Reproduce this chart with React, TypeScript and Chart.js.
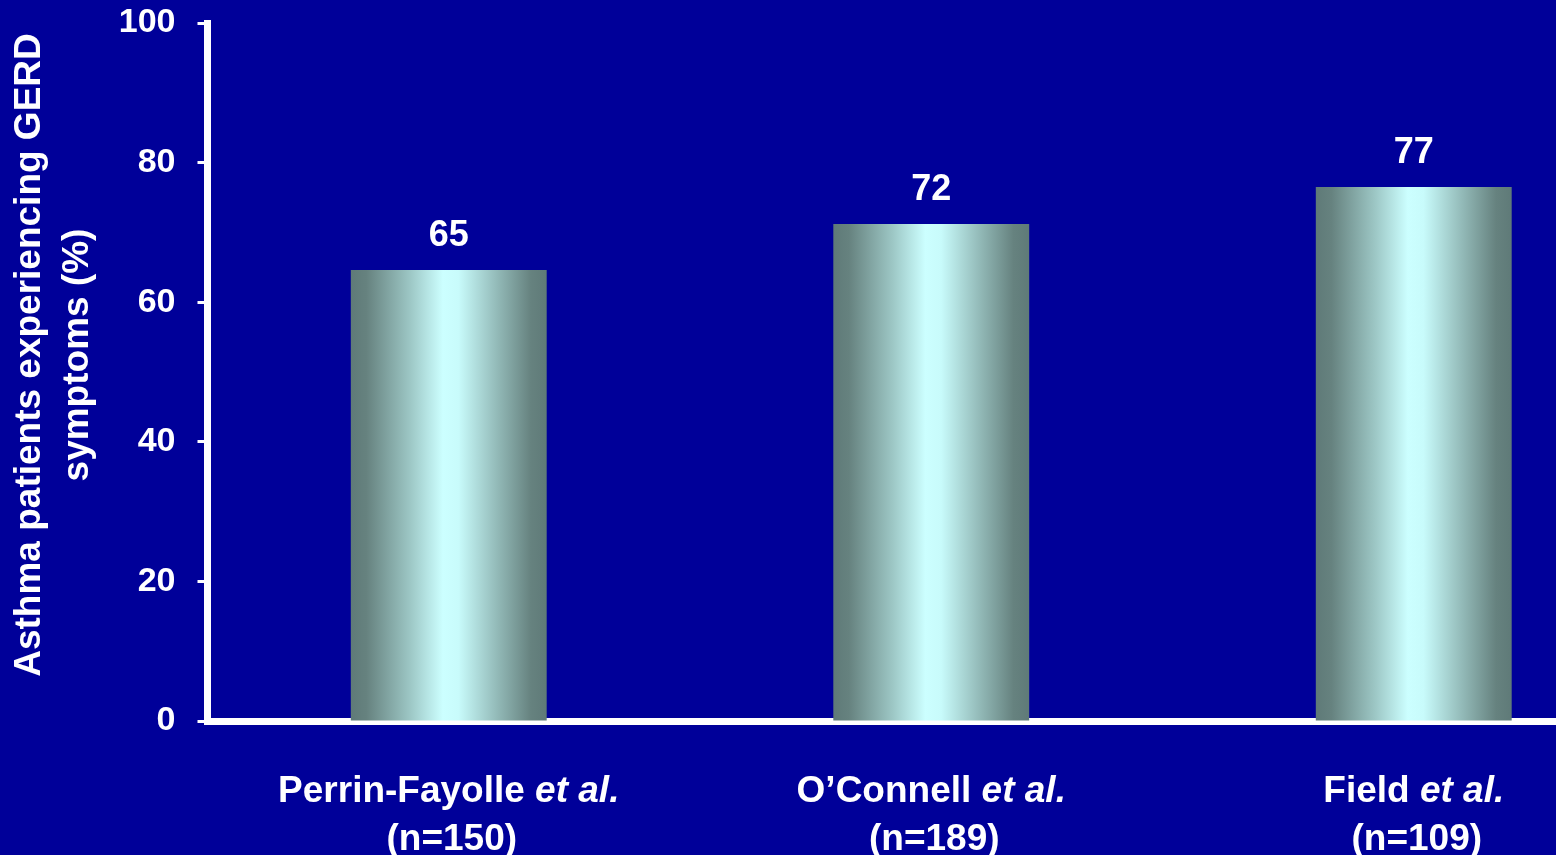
import React, { useEffect, useRef } from 'react';
import { Chart, registerables } from 'chart.js';

Chart.register(...registerables);

// ---- data ----
const studyNames = ['Perrin-Fayolle', 'O\u2019Connell', 'Field'];
const studySuffix = ['et al.', 'et al.', 'et al.'];
const sampleSizes = ['(n=150)', '(n=189)', '(n=109)'];
const barValues = [64.6, 71.2, 76.5];
const valueLabels = ['65', '72', '77'];
const yTickValues = [0, 20, 40, 60, 80, 100];
const yTitleLines = ['Asthma patients experiencing GERD', 'symptoms (%)'];

const FONT = '"Liberation Sans", Arial, Helvetica, sans-serif';
const BG = '#000099';

const makeGradient = (ctx: CanvasRenderingContext2D, x: number, width: number) => {
  const g = ctx.createLinearGradient(x - width / 2, 0, x + width / 2, 0);
  g.addColorStop(0, '#5f7a78');
  g.addColorStop(0.08, '#66827f');
  g.addColorStop(0.3, '#9cc6c4');
  g.addColorStop(0.47, '#ccffff');
  g.addColorStop(0.55, '#c8fbfb');
  g.addColorStop(0.75, '#92b9b7');
  g.addColorStop(0.92, '#66827f');
  g.addColorStop(1, '#5f7a78');
  return g;
};

const gradientPlugin = {
  id: 'barGradient',
  beforeDatasetsDraw(chart: any) {
    const ctx = chart.ctx;
    const meta = chart.getDatasetMeta(0);
    meta.data.forEach((el: any) => {
      const { x, width } = el.getProps(['x', 'width'], true);
      el.options = Object.assign({}, el.options, { backgroundColor: makeGradient(ctx, x, width) });
    });
  },
};

const textPlugin = {
  id: 'customText',
  afterDraw(chart: any) {
    const ctx = chart.ctx;
    const area = chart.chartArea;
    const xScale = chart.scales.x;
    const meta = chart.getDatasetMeta(0);
    ctx.save();
    ctx.fillStyle = '#ffffff';

    // value labels above bars
    ctx.font = `bold 36px ${FONT}`;
    ctx.textAlign = 'center';
    ctx.textBaseline = 'alphabetic';
    meta.data.forEach((el: any, i: number) => {
      const { x, y } = el.getProps(['x', 'y'], true);
      ctx.fillText(valueLabels[i], x, y - 24);
    });

    // category labels (mixed upright / italic)
    studyNames.forEach((name, i) => {
      const cx = xScale.getPixelForTick(i);
      const first = name + ' ';
      ctx.font = `bold 37px ${FONT}`;
      const w1 = ctx.measureText(first).width;
      ctx.font = `italic bold 37px ${FONT}`;
      const w2 = ctx.measureText(studySuffix[i]).width;
      const start = cx - (w1 + w2) / 2;
      ctx.textAlign = 'left';
      ctx.font = `bold 37px ${FONT}`;
      ctx.fillText(first, start, area.bottom + 81);
      ctx.font = `italic bold 37px ${FONT}`;
      ctx.fillText(studySuffix[i], start + w1, area.bottom + 81);
      ctx.textAlign = 'center';
      ctx.font = `bold 37px ${FONT}`;
      ctx.fillText(sampleSizes[i], cx + 3, area.bottom + 129);
    });

    // y-axis title (rotated, two lines)
    ctx.font = `bold 37px ${FONT}`;
    ctx.textAlign = 'center';
    ctx.textBaseline = 'middle';
    const cy = (area.top + area.bottom) / 2 - 17;
    yTitleLines.forEach((line, i) => {
      ctx.save();
      ctx.translate(30 + i * 48, cy);
      ctx.rotate(-Math.PI / 2);
      ctx.fillText(line, 0, 0);
      ctx.restore();
    });
    ctx.restore();
  },
};

export default function App() {
  const canvasRef = useRef<HTMLCanvasElement | null>(null);

  useEffect(() => {
    if (!canvasRef.current) return;
    const chart = new Chart(canvasRef.current, {
      type: 'bar',
      data: {
        labels: studyNames,
        datasets: [
          {
            data: barValues,
            backgroundColor: () => '#9cc6c4',
            borderWidth: 0,
            barPercentage: 1,
            categoryPercentage: 0.406,
          },
        ],
      },
      options: {
        animation: false,
        responsive: true,
        maintainAspectRatio: false,
        layout: { padding: { top: 23, right: 45, bottom: 0, left: 0 } },
        plugins: {
          legend: { display: false },
          tooltip: { enabled: false },
          title: { display: false },
        },
        scales: {
          x: {
            type: 'category',
            z: 1,
            ticks: { display: false },
            grid: { display: false },
            border: { display: true, color: '#ffffff', width: 7 },
            afterFit: (scale: any) => {
              scale.height = 134;
              scale.paddingLeft = 0;
              scale.paddingRight = 0;
            },
          },
          y: {
            min: 0,
            max: 100,
            afterBuildTicks: (scale: any) => {
              scale.ticks = yTickValues.map((v) => ({ value: v }));
            },
            ticks: {
              color: '#ffffff',
              font: { family: FONT, size: 34, weight: 'bold' },
              padding: 22,
            },
            grid: {
              display: true,
              drawOnChartArea: false,
              drawTicks: true,
              tickLength: 10,
              tickWidth: 3,
              tickColor: '#ffffff',
            },
            border: { display: true, color: '#ffffff', width: 7 },
            afterFit: (scale: any) => {
              scale.width = 207.5;
              scale.paddingTop = 0;
              scale.paddingBottom = 0;
            },
          },
        },
      },
      plugins: [gradientPlugin, textPlugin],
    } as any);
    return () => chart.destroy();
  }, []);

  return (
    <div
      style={{
        position: 'fixed',
        left: 0,
        top: 0,
        width: 1556,
        height: 855,
        overflow: 'hidden',
        background: BG,
      }}
    >
      <div style={{ position: 'relative', width: 1700, height: 855 }}>
        <canvas ref={canvasRef} style={{ display: 'block' }} />
      </div>
    </div>
  );
}
